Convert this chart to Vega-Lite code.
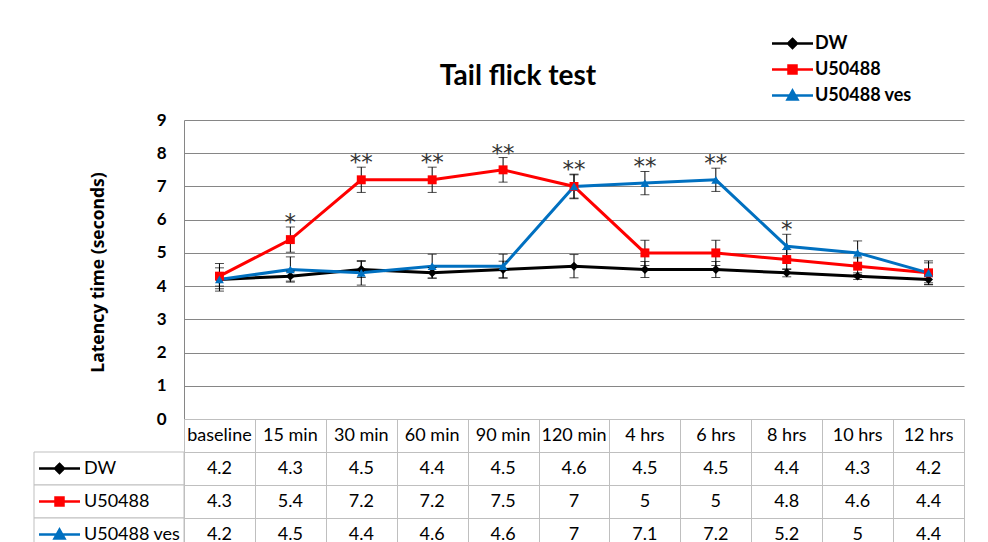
{
  "$schema": "https://vega.github.io/schema/vega-lite/v6.json",
  "padding": {"left": 33, "top": 31, "right": 0, "bottom": 0},
  "background": "white",
  "config": {"font": "Lato", "view": {"stroke": null}},
  "data": {"values": [
    {"series": "DW", "time": "baseline", "value": 4.2, "err": 0.2, "sig": ""},
    {"series": "DW", "time": "15 min", "value": 4.3, "err": 0.15, "sig": ""},
    {"series": "DW", "time": "30 min", "value": 4.5, "err": 0.24, "sig": ""},
    {"series": "DW", "time": "60 min", "value": 4.4, "err": 0.16, "sig": ""},
    {"series": "DW", "time": "90 min", "value": 4.5, "err": 0.25, "sig": ""},
    {"series": "DW", "time": "120 min", "value": 4.6, "err": 0.35, "sig": ""},
    {"series": "DW", "time": "4 hrs", "value": 4.5, "err": 0.24, "sig": ""},
    {"series": "DW", "time": "6 hrs", "value": 4.5, "err": 0.24, "sig": ""},
    {"series": "DW", "time": "8 hrs", "value": 4.4, "err": 0.12, "sig": ""},
    {"series": "DW", "time": "10 hrs", "value": 4.3, "err": 0.1, "sig": ""},
    {"series": "DW", "time": "12 hrs", "value": 4.2, "err": 0.15, "sig": ""},
    {"series": "U50488", "time": "baseline", "value": 4.3, "err": 0.38, "sig": ""},
    {"series": "U50488", "time": "15 min", "value": 5.4, "err": 0.38, "sig": "*"},
    {"series": "U50488", "time": "30 min", "value": 7.2, "err": 0.38, "sig": "**"},
    {"series": "U50488", "time": "60 min", "value": 7.2, "err": 0.38, "sig": "**"},
    {"series": "U50488", "time": "90 min", "value": 7.5, "err": 0.37, "sig": "**"},
    {"series": "U50488", "time": "120 min", "value": 7, "err": 0.37, "sig": "**"},
    {"series": "U50488", "time": "4 hrs", "value": 5, "err": 0.38, "sig": ""},
    {"series": "U50488", "time": "6 hrs", "value": 5, "err": 0.38, "sig": ""},
    {"series": "U50488", "time": "8 hrs", "value": 4.8, "err": 0.3, "sig": ""},
    {"series": "U50488", "time": "10 hrs", "value": 4.6, "err": 0.25, "sig": ""},
    {"series": "U50488", "time": "12 hrs", "value": 4.4, "err": 0.36, "sig": ""},
    {"series": "U50488 ves", "time": "baseline", "value": 4.2, "err": 0.35, "sig": ""},
    {"series": "U50488 ves", "time": "15 min", "value": 4.5, "err": 0.38, "sig": ""},
    {"series": "U50488 ves", "time": "30 min", "value": 4.4, "err": 0.37, "sig": ""},
    {"series": "U50488 ves", "time": "60 min", "value": 4.6, "err": 0.36, "sig": ""},
    {"series": "U50488 ves", "time": "90 min", "value": 4.6, "err": 0.36, "sig": ""},
    {"series": "U50488 ves", "time": "120 min", "value": 7, "err": 0.35, "sig": ""},
    {"series": "U50488 ves", "time": "4 hrs", "value": 7.1, "err": 0.35, "sig": "**"},
    {"series": "U50488 ves", "time": "6 hrs", "value": 7.2, "err": 0.35, "sig": "**"},
    {"series": "U50488 ves", "time": "8 hrs", "value": 5.2, "err": 0.36, "sig": "*"},
    {"series": "U50488 ves", "time": "10 hrs", "value": 5, "err": 0.36, "sig": ""},
    {"series": "U50488 ves", "time": "12 hrs", "value": 4.4, "err": 0.3, "sig": ""}
  ]},
  "resolve": {"scale": {"shape": "independent"}, "legend": {"color": "independent", "shape": "independent", "stroke": "independent"}},
  "bounds": "flush",
  "spacing": 0,
  "vconcat": [
    {
      "width": 780,
      "height": 299,
      "title": {"text": "Tail flick test", "fontSize": 28, "fontWeight": "bold", "color": "black", "anchor": "middle", "frame": "group", "dx": -56, "offset": -2, "baseline": "alphabetic"},
      "encoding": {
        "x": {"field": "time", "type": "ordinal", "sort": ["baseline", "15 min", "30 min", "60 min", "90 min", "120 min", "4 hrs", "6 hrs", "8 hrs", "10 hrs", "12 hrs"], "scale": {"type": "band", "paddingInner": 0, "paddingOuter": 0}, "axis": null},
        "y": {"field": "value", "type": "quantitative", "scale": {"domain": [0, 9]},
          "axis": {"values": [0, 1, 2, 3, 4, 5, 6, 7, 8, 9], "grid": true, "gridColor": "#868686", "domain": true, "domainColor": "#868686", "ticks": false, "labelFontSize": 17, "labelFontWeight": "bold", "labelColor": "black", "labelPadding": 18, "title": "Latency time (seconds)", "titleFont": "Open Sans", "titleFontSize": 17.5, "titleFontWeight": "bold", "titleColor": "black", "titleX": -77, "titleY": 152, "titleAngle": 270, "titleBaseline": "bottom", "titleAlign": "center", "minExtent": 150, "maxExtent": 150}}
      },
      "layer": [
        {"mark": {"type": "line", "strokeWidth": 3},
         "encoding": {"color": {"field": "series", "type": "nominal", "scale": {"domain": ["DW", "U50488", "U50488 ves"], "range": ["#000000", "#FF0000", "#0070C0"]}, "legend": null}}},
        {"mark": {"type": "errorbar", "color": "black", "ticks": true, "size": 9, "thickness": 1},
         "encoding": {"yError": {"field": "err"}, "detail": {"field": "series", "type": "nominal"}}},
        {"mark": {"type": "point", "filled": true, "opacity": 1, "size": 80},
         "encoding": {
           "color": {"field": "series", "type": "nominal", "legend": null},
           "shape": {"field": "series", "type": "nominal", "scale": {"domain": ["DW", "U50488", "U50488 ves"], "range": ["diamond", "square", "triangle-up"]}, "legend": null}
         }},
        {"transform": [{"filter": "datum.sig !== ''"}, {"calculate": "datum.value + datum.err", "as": "top"}],
         "mark": {"type": "text", "fontSize": 23, "font": "DejaVu Sans", "color": "#333333", "baseline": "alphabetic", "dy": 3},
         "encoding": {"y": {"field": "top", "type": "quantitative"}, "text": {"field": "sig"}}}
      ]
    },
    {
      "width": 780,
      "height": 132,
      "view": {"stroke": "#bfbfbf"},
      "resolve": {"scale": {"x": "independent"}},
      "encoding": {
        "y": {"field": "series", "type": "nominal", "scale": {"domain": ["Time", "DW", "U50488", "U50488 ves"], "paddingInner": 0, "paddingOuter": 0},
          "axis": {"grid": true, "tickBand": "extent", "gridColor": "#bfbfbf", "labels": false, "ticks": false, "domain": false, "title": null}}
      },
      "layer": [
        {
          "encoding": {
            "x": {"field": "time", "type": "ordinal", "sort": ["baseline", "15 min", "30 min", "60 min", "90 min", "120 min", "4 hrs", "6 hrs", "8 hrs", "10 hrs", "12 hrs"], "scale": {"type": "band", "paddingInner": 0, "paddingOuter": 0},
              "axis": {"orient": "top", "grid": true, "tickBand": "extent", "gridColor": "#bfbfbf", "labels": false, "ticks": false, "domain": false, "title": null}}
          },
          "layer": [
            {"mark": {"type": "text", "fontSize": 18, "color": "black"},
             "encoding": {"text": {"field": "value", "type": "quantitative"}}},
            {"transform": [{"filter": "datum.series === 'DW'"}],
             "mark": {"type": "text", "fontSize": 18, "color": "black"},
             "encoding": {"y": {"datum": "Time"}, "text": {"field": "time"}}}
          ]
        },
        {
          "transform": [{"filter": "datum.time === 'baseline'"}],
          "encoding": {
            "x": {"datum": 0, "type": "quantitative", "scale": {"domain": [0, 1], "range": [-150, 0]}, "axis": null}
          },
          "layer": [
            {"mark": {"type": "rect", "fill": "white", "stroke": "#bfbfbf", "strokeWidth": 1},
             "encoding": {"x2": {"datum": 1}}},
            {"mark": {"type": "point", "filled": true, "opacity": 1, "size": 400, "strokeWidth": 2.5},
             "encoding": {
               "x": {"datum": 0.17, "type": "quantitative"},
               "color": {"field": "series", "type": "nominal",
                 "legend": {"orient": "none", "legendX": 597, "legendY": -387, "title": null, "padding": 0, "symbolSize": 400, "symbolStrokeWidth": 2.5, "labelFontSize": 18, "labelFontWeight": "bold", "labelColor": "black", "labelOffset": 11, "rowPadding": 5}},
               "stroke": {"field": "series", "type": "nominal", "scale": {"domain": ["DW", "U50488", "U50488 ves"], "range": ["#000000", "#FF0000", "#0070C0"]},
                 "legend": {"orient": "none", "legendX": 597, "legendY": -387, "title": null, "padding": 0, "symbolSize": 400, "symbolStrokeWidth": 2.5, "labelFontSize": 18, "labelFontWeight": "bold", "labelColor": "black", "labelOffset": 11, "rowPadding": 5}},
               "shape": {"field": "series", "type": "nominal", "scale": {"domain": ["DW", "U50488", "U50488 ves"], "range": ["M-2.05,0H2.05M0,-0.45L0.45,0L0,0.45L-0.45,0Z", "M-2.05,0H2.05M-0.4,-0.4H0.4V0.4H-0.4Z", "M-2.05,0H2.05M0,-0.5L0.5,0.4H-0.5Z"]},
                 "legend": {"orient": "none", "legendX": 597, "legendY": -387, "title": null, "padding": 0, "symbolSize": 400, "symbolStrokeWidth": 2.5, "labelFontSize": 18, "labelFontWeight": "bold", "labelColor": "black", "labelOffset": 11, "rowPadding": 5}}
             }},
            {"mark": {"type": "text", "align": "left", "fontSize": 18, "color": "black"},
             "encoding": {"x": {"datum": 0.333, "type": "quantitative"}, "text": {"field": "series"}}}
          ]
        }
      ]
    }
  ]
}
